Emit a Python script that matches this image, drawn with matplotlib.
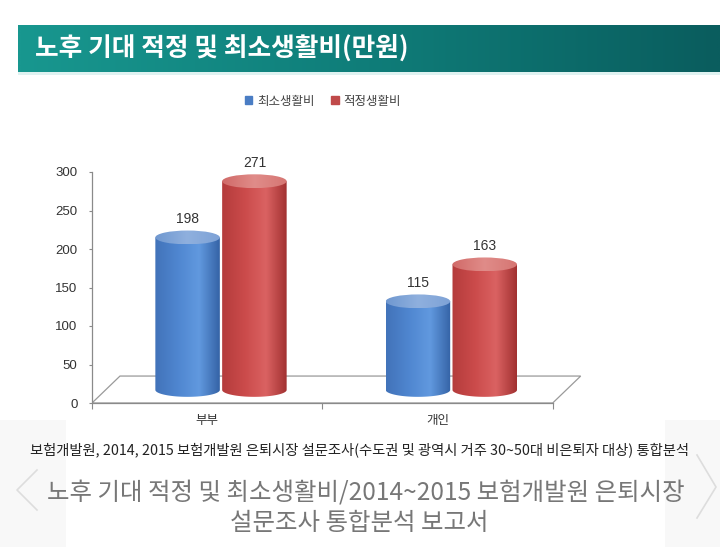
import matplotlib
matplotlib.use("Agg")
import matplotlib.pyplot as plt
import matplotlib.patches as mpatches
from matplotlib.path import Path
from matplotlib.colors import to_rgb
import numpy as np

plt.rcParams['font.family'] = ['Noto Sans CJK KR', 'DejaVu Sans']

# data
categories = ["부부", "개인"]
series_names = ["최소생활비", "적정생활비"]
minimum_cost = [198, 115]
adequate_cost = [271, 163]
y_ticks = [0, 50, 100, 150, 200, 250, 300]

title = "노후 기대 적정 및 최소생활비(만원)"
source = "보험개발원, 2014, 2015 보험개발원 은퇴시장 설문조사(수도권 및 광역시 거주 30~50대 비은퇴자 대상) 통합분석"
caption = ["노후 기대 적정 및 최소생활비/2014~2015 보험개발원 은퇴시장",
           "설문조사 통합분석 보고서"]

# styles
BLUE_BODY = ["#4273b9", "#4f86d0", "#6199df", "#3563a6"]
RED_BODY = ["#b43c3c", "#cb4b4b", "#da6262", "#a23131"]
BLUE_TOP = ["#7098d0", "#8fb0de", "#7ea2d6"]
RED_TOP = ["#d06a68", "#e08c89", "#d67673"]
BAR_W = 0.28
BAR_STEP = 0.29
DEPTH = 0.06        # shift of bars toward the back plane
BASE = 17           # bar base height on the floor (data units)
ELL_H = 18          # ellipse height of cylinder caps (data units)
FLOOR_DX, FLOOR_DY = 0.1215, 35


def gradient(cols, stops=None, n=120):
    rgb = np.array([to_rgb(c) for c in cols])
    if stops is None:
        stops = np.linspace(0, 1, len(cols))
    t = np.linspace(0, 1, n)
    arr = np.stack([np.interp(t, stops, rgb[:, k]) for k in range(3)], axis=-1)
    return arr[np.newaxis, :, :]


def cylinder(ax, xc, value, body_cols, top_cols, z):
    x0, x1 = xc - BAR_W / 2, xc + BAR_W / 2
    top = BASE + value
    th = np.linspace(np.pi, 2 * np.pi, 60)
    bx = xc + BAR_W / 2 * np.cos(th)
    by = BASE + ELL_H / 2 * np.sin(th)
    verts = [(x0, top)] + list(zip(bx, by)) + [(x1, top), (x0, top)]
    codes = [Path.MOVETO] + [Path.LINETO] * (len(verts) - 2) + [Path.CLOSEPOLY]
    body = mpatches.PathPatch(Path(verts, codes), facecolor="none", edgecolor="none", zorder=z)
    ax.add_patch(body)
    im = ax.imshow(gradient(body_cols, [0, 0.35, 0.68, 1]), extent=[x0, x1, BASE - ELL_H / 2, top],
                   aspect="auto", zorder=z, interpolation="bilinear")
    im.set_clip_path(body)
    cap = mpatches.Ellipse((xc, top), BAR_W, ELL_H, facecolor="none", edgecolor="none", zorder=z + 0.1)
    ax.add_patch(cap)
    im2 = ax.imshow(gradient(top_cols, [0, 0.5, 1]), extent=[x0, x1, top - ELL_H / 2, top + ELL_H / 2],
                    aspect="auto", zorder=z + 0.1, interpolation="bilinear")
    im2.set_clip_path(cap)
    ax.annotate(str(value), (xc, top + ELL_H / 2), xytext=(0, 3), textcoords="offset points",
                ha="center", va="bottom", fontsize=10, color="#333333",
                family=["Liberation Sans", "DejaVu Sans"], zorder=z + 1)


fig = plt.figure(figsize=(7.2, 5.51), dpi=100)
fig.patch.set_facecolor("white")

# gallery side panels
fig.patches.append(mpatches.Rectangle((0, 4 / 551), 66 / 720, 127 / 551, transform=fig.transFigure,
                                      facecolor="#f8f8f8", edgecolor="none", zorder=0))
fig.patches.append(mpatches.Rectangle((665 / 720, 4 / 551), 55 / 720, 127 / 551, transform=fig.transFigure,
                                      facecolor="#f8f8f8", edgecolor="none", zorder=0))
fig.lines.append(plt.Line2D([37 / 720, 17 / 720, 37 / 720], [1 - 470 / 551, 1 - 490 / 551, 1 - 510 / 551],
                            transform=fig.transFigure, color="#dddddd", lw=1.2))
fig.lines.append(plt.Line2D([697 / 720, 716 / 720, 697 / 720], [1 - 455 / 551, 1 - 487 / 551, 1 - 518 / 551],
                            transform=fig.transFigure, color="#dddddd", lw=1.2))

# title banner
ax_b = fig.add_axes([18 / 720, 1 - 72 / 551, 702 / 720, 47 / 551])
ax_b.imshow(gradient(["#18978f", "#0f7d79", "#0a5d5e"], [0, 0.5, 1]), extent=[0, 1, 0, 1],
            aspect="auto", interpolation="bilinear")
ax_b.set_xlim(0, 1)
ax_b.set_ylim(0, 1)
ax_b.axis("off")
ax_b.text(17 / 702, 0.5, title, ha="left", va="center", color="white",
          fontsize=18.5, fontweight="bold")
fig.patches.append(mpatches.Rectangle((18 / 720, 1 - 75 / 551), 702 / 720, 3 / 551, transform=fig.transFigure,
                                      facecolor="#dff2f1", edgecolor="none"))

# chart
ax = fig.add_axes([92 / 720, 148 / 551, 495.6 / 720, 231 / 551])
ax.set_facecolor("none")

floor = mpatches.Polygon([(-0.5, 0), (1.5, 0), (1.5 + FLOOR_DX, FLOOR_DY), (-0.5 + FLOOR_DX, FLOOR_DY)],
                         closed=True, facecolor="white", edgecolor="#9a9a9a", lw=0.9, zorder=1)
ax.add_patch(floor)

for i in range(len(categories)):
    cylinder(ax, i + DEPTH - BAR_STEP / 2, minimum_cost[i], BLUE_BODY, BLUE_TOP, 3)
    cylinder(ax, i + DEPTH + BAR_STEP / 2, adequate_cost[i], RED_BODY, RED_TOP, 4)

ax.set_xlim(-0.5, 1.5 + FLOOR_DX + 0.03)
ax.set_ylim(0, 300)
for s in ["top", "right"]:
    ax.spines[s].set_visible(False)
ax.spines["left"].set_bounds(0, 300)
ax.spines["bottom"].set_bounds(-0.5, 1.5)
for s in ["left", "bottom"]:
    ax.spines[s].set_color("#8a8a8a")
    ax.spines[s].set_linewidth(0.9)
    ax.spines[s].set_zorder(2)

ax.set_yticks(y_ticks)
ax.set_yticklabels([str(v) for v in y_ticks], family=["Liberation Sans", "DejaVu Sans"])
ax.tick_params(axis="y", direction="out", length=2.5, width=0.8, color="#8a8a8a",
               labelsize=9.5, labelcolor="#333333", pad=8)
ax.set_xticks([-0.5, 0.5, 1.5])
ax.set_xticklabels([])
ax.set_xticks(range(len(categories)), minor=True)
ax.set_xticklabels(categories, minor=True)
ax.tick_params(axis="x", which="major", direction="out", length=4, width=0.8, color="#8a8a8a")
ax.tick_params(axis="x", which="minor", length=0, labelsize=9, labelcolor="#333333", pad=8)

handles = [mpatches.Patch(color="#4a7dc4", label=series_names[0]),
           mpatches.Patch(color="#c04a4a", label=series_names[1])]
fig.legend(handles=handles, loc="center", bbox_to_anchor=(323 / 720, 1 - 101 / 551), ncol=2,
           frameon=False, fontsize=9, handlelength=0.6, handleheight=0.6, handletextpad=0.4,
           columnspacing=1.3, labelcolor="#444444")

# source + caption
fig.text(359 / 720, 1 - 450 / 551, source, ha="center", va="center", fontsize=10.3, color="#222222")
fig.text(366 / 720, 1 - 492 / 551, caption[0], ha="center", va="center", fontsize=17.6, color="#777777")
fig.text(359 / 720, 1 - 523 / 551, caption[1], ha="center", va="center", fontsize=17.6, color="#777777")

plt.savefig("out.png", dpi=100, facecolor=fig.get_facecolor())
plt.close()
